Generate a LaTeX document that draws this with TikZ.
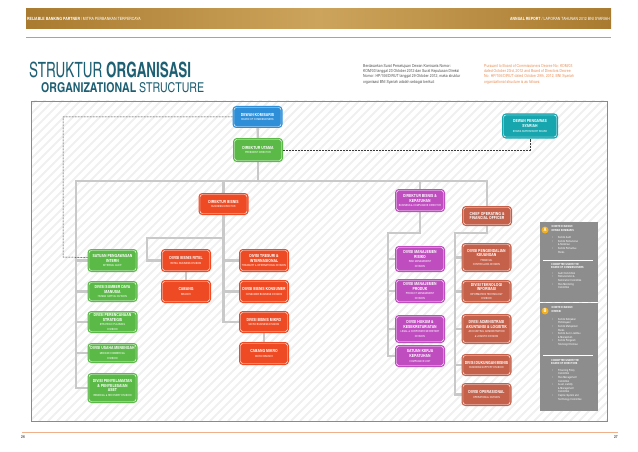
\documentclass[tikz,border=0pt]{standalone}
\usepackage{fontspec}
\setmainfont{texgyreheroscn}[Extension=.otf,UprightFont=*-regular,BoldFont=*-bold,ItalicFont=*-italic,BoldItalicFont=*-bolditalic]
\usepackage{graphicx}
\usepackage{xcolor}
\definecolor{cKom}{HTML}{2E8FD8}
\definecolor{cUtama}{HTML}{5BBA47}
\definecolor{cSyariah}{HTML}{17A5AE}
\definecolor{cBisnis}{HTML}{EE4B24}
\definecolor{cPatuh}{HTML}{BF4DC0}
\definecolor{cFin}{HTML}{C5604A}
\definecolor{cLink}{HTML}{C9C9C9}
\definecolor{cDash}{HTML}{3A3A3A}
\definecolor{cTitle}{HTML}{1D5F73}
\definecolor{cGold}{HTML}{A97B30}
\definecolor{cGoldLight}{HTML}{CDA45C}
\definecolor{cOrange}{HTML}{E8905A}
\definecolor{cPanel}{HTML}{8D8D8D}
\definecolor{cBadge}{HTML}{F2B01E}
\definecolor{cFrame}{HTML}{8A8A8A}
\definecolor{cHatch}{HTML}{F0F0F0}
\definecolor{cText}{HTML}{555555}
\usepackage{tikz}
\usetikzlibrary{positioning,backgrounds}

\newcommand\boxfont{\fontsize{4.2}{4.6}\selectfont\bfseries}
\newcommand\subline[1]{{\fontsize{2.8}{3.3}\selectfont\mdseries #1}}
\newcommand\panelfont{\fontsize{2.8}{3.6}\selectfont}
\newcommand\pitem[1]{\makebox[6pt][l]{\textbullet}#1}
\newcommand\pcont[1]{\hspace*{6pt}#1}

\tikzset{
  org-box/.style={fill=#1,draw=white,line width=0.45pt,rounded corners=2.5pt,
    preaction={draw=#1,line width=3pt},outer sep=1.5pt,minimum width=47pt,
    inner sep=0.8pt,align=center,text=white,font=\boxfont},
  link/.style={draw=cLink,line width=2.4pt},
  dash-link/.style={draw=cDash,line width=0.5pt,dash pattern=on 1.8pt off 1.2pt},
  hatch/.style={draw=cHatch,line width=1.8pt},
  panel-text/.style={anchor=north west,align=left,text=white,font=\panelfont,inner sep=0pt},
  panel-head/.style={panel-text,font=\panelfont\bfseries},
  badge/.style={circle,fill=cBadge,text=white,inner sep=0pt,minimum size=7pt,
    font=\fontsize{5}{5}\selectfont\bfseries},
}

\begin{document}
\begin{tikzpicture}[x=1pt,y=-1pt,node distance=9pt]
  \useasboundingbox (0,0) rectangle (638,452);

  % page header
  \shade[left color=cGold,right color=cGold,middle color=cGoldLight] (26,9) rectangle (611,29);
  \node[anchor=west,inner sep=0pt,text=white,font=\fontsize{4.3}{5}\selectfont] (tag-left) at (27,19)
    {\textbf{RELIABLE BANKING PARTNER} / MITRA PERBANKAN TERPERCAYA};
  \node[anchor=east,inner sep=0pt,text=white,font=\fontsize{4.3}{5}\selectfont] (tag-right) at (610,19)
    {\textbf{ANNUAL REPORT} / LAPORAN TAHUNAN 2012 BNI SYARIAH};
  \draw[cOrange,line width=0.8pt] (26,37) -- (611,37);

  \node[anchor=north west,inner sep=0pt,text=cTitle] (title-id) at (29,62)
    {\resizebox{162pt}{15.5pt}{STRUKTUR \textbf{ORGANISASI}}};
  \node[anchor=north west,inner sep=0pt,text=cTitle] (title-en) at (41,82.5)
    {\resizebox{163pt}{10pt}{\textbf{ORGANIZATIONAL} STRUCTURE}};
  \node[anchor=north west,inner sep=0pt,align=left,text=cText,font=\fontsize{4.2}{5.3}\selectfont] (note-id) at (363,64)
    {Berdasarkan Surat Persetujuan Dewan Komisaris Nomor:\\KOM/03 tanggal 23 Oktober 2012 dan Surat Keputusan Direksi\\
     Nomor: HP/106/DIRUT tanggal 29 Oktober 2012, maka struktur\\organisasi BNI Syariah adalah sebagai berikut:};
  \node[anchor=north west,inner sep=0pt,align=left,text=cOrange,font=\fontsize{4.2}{5.3}\selectfont] (note-en) at (484,64)
    {Pursuant to Board of Commissioners Decree No: KOM/03\\dated October 23rd, 2012 and Board of Directors Decree\\
     No: HP/106/DIRUT dated October 29th, 2012, BNI Syariah\\organizational structure is as follows:};

  % frame and footer
  \draw[cFrame,line width=0.8pt] (31,101) rectangle (607,421);
  \draw[cOrange!70,line width=0.8pt] (22,432) -- (618,432);
  \node[anchor=west,inner sep=0pt,text=cText,font=\fontsize{4}{4}\selectfont\bfseries] (page-l) at (21,437) {26};
  \node[anchor=east,inner sep=0pt,text=cText,font=\fontsize{4}{4}\selectfont\bfseries] (page-r) at (618,437) {27};

  % board
  \node[org-box=cKom,minimum height=19pt] (kom) at (257.5,117) {DEWAN KOMISARIS\\\subline{BOARD OF COMMISSIONERS}};
  \node[org-box=cUtama,minimum height=21pt] (utama) at (258,150) {DIREKTUR UTAMA\\\subline{PRESIDENT DIRECTOR}};
  \node[org-box=cSyariah,minimum height=22pt,minimum width=53pt] (dps) at (530,126)
    {DEWAN PENGAWAS\\SYARIAH\\\subline{SHARIA SUPERVISORY BOARD}};
  \node[org-box=cBisnis,minimum height=19pt] (bisnis) at (223.5,204) {DIREKTUR BISNIS\\\subline{BUSINESS DIRECTOR}};
  \node[org-box=cPatuh,minimum height=20pt] (patuh) at (420,200.5)
    {DIREKTUR BISNIS \&\\KEPATUHAN\\\subline{BUSINESS \& COMPLIANCE DIRECTOR}};
  \node[org-box=cFin,minimum height=17pt] (cofo) at (487,216) {CHIEF OPERATING \&\\FINANCIAL OFFICER};

  % under president director
  \node[org-box=cUtama,minimum height=20pt] (spi) at (112.5,260.5) {SATUAN PENGAWASAN\\INTERN\\\subline{INTERNAL AUDIT}};
  \node[org-box=cUtama,minimum height=18pt,below=of spi] (sdm) {DIVISI SUMBER DAYA\\MANUSIA\\\subline{HUMAN CAPITAL DIVISION}};
  \node[org-box=cUtama,minimum height=19pt,below=of sdm] (rencana)
    {DIVISI PERENCANAAN\\STRATEGIS\\\subline{STRATEGIC PLANNING}\\\subline{DIVISION}};
  \node[org-box=cUtama,minimum height=17pt,below=10pt of rencana] (menengah)
    {DIVISI USAHA MENENGAH\\\subline{MEDIUM COMMERCIAL}\\\subline{DIVISION}};
  \node[org-box=cUtama,minimum height=27pt,below=10pt of menengah] (aset)
    {DIVISI PENYELAMATAN\\\& PENYELESAIAN\\ASET\\\subline{REMEDIAL \& RECOVERY DIVISION}};

  % under business director
  \node[org-box=cBisnis,minimum height=20pt] (ritel) at (186,260.5) {DIVISI BISNIS RITEL\\\subline{RETAIL BUSINESS DIVISION}};
  \node[org-box=cBisnis,minimum height=20pt,below=8pt of ritel] (cabang) {CABANG\\\subline{BRANCH}};
  \node[org-box=cBisnis,minimum height=20pt] (tresuri) at (264,260.5)
    {DIVISI TRESURI \&\\INTERNASIONAL\\\subline{TREASURY \& INTERNATIONAL DIVISION}};
  \node[org-box=cBisnis,minimum height=20pt,below=8pt of tresuri] (konsumer)
    {DIVISI BISNIS KONSUMER\\\subline{CONSUMER BUSINESS DIVISION}};
  \node[org-box=cBisnis,minimum height=19pt,below=8pt of konsumer] (mikro)
    {DIVISI BISNIS MIKRO\\\subline{MICRO BUSINESS DIVISION}};
  \node[org-box=cBisnis,minimum height=20pt,below=of mikro] (cab-mikro) {CABANG MIKRO\\\subline{MICRO BRANCH}};

  % under business & compliance director
  \node[org-box=cPatuh,minimum height=23pt] (risiko) at (420,259)
    {DIVISI MANAJEMEN\\RISIKO\\\subline{RISK MANAGEMENT}\\\subline{DIVISION}};
  \node[org-box=cPatuh,minimum height=21pt,below=7pt of risiko] (produk)
    {DIVISI MANAJEMEN\\PRODUK\\\subline{PRODUCT MANAGEMENT}\\\subline{DIVISION}};
  \node[org-box=cPatuh,minimum height=25pt,below=12pt of produk] (hukum)
    {DIVISI HUKUM \&\\KESEKRETARIATAN\\\subline{LEGAL \& CORPORATE SECRETARY}\\\subline{DIVISION}};
  \node[org-box=cPatuh,minimum height=19pt,below=2pt of hukum] (skk)
    {SATUAN KERJA\\KEPATUHAN\\\subline{COMPLIANCE UNIT}};

  % under chief operating & financial officer
  \node[org-box=cFin,minimum height=26pt] (keuangan) at (486.5,257.5)
    {DIVISI PENGENDALIAN\\KEUANGAN\\\subline{FINANCIAL}\\\subline{CONTROLLING DIVISION}};
  \node[org-box=cFin,minimum height=20pt,below=8pt of keuangan] (ti)
    {DIVISI TEKNOLOGI\\INFORMASI\\\subline{INFORMATION TECHNOLOGY}\\\subline{DIVISION}};
  \node[org-box=cFin,minimum height=27pt,below=11pt of ti] (logistik)
    {DIVISI ADMINISTRASI\\AKUNTANSI \& LOGISTIK\\\subline{ACCOUNTING, ADMINISTRATION}\\\subline{\& LOGISTIC DIVISION}};
  \node[org-box=cFin,minimum height=19pt,below=10pt of logistik] (dukungan)
    {DIVISI DUKUNGAN BISNIS\\\subline{BUSINESS SUPPORT DIVISION}};
  \node[org-box=cFin,minimum height=20pt,below=7pt of dukungan] (operasional)
    {DIVISI OPERASIONAL\\\subline{OPERATIONAL DIVISION}};

  % committee panels
  \fill[cPanel] (540,222) rectangle (598,302);
  \node[badge] (badge-a) at (545,230) {A};
  \node[panel-head] (kom-a-id) at (551.5,225.5) {KOMITE DI BAWAH\\DEWAN KOMISARIS};
  \node[panel-text] (list-a-id) at (552,236.5)
    {\pitem{Komite Audit}\\\pitem{Komite Remunerasi}\\\pcont{\& Nominasi}\\\pitem{Komite Pemantau}\\\pcont{Risiko}};
  \draw[white,line width=0.6pt] (543,260) -- (593,260);
  \node[panel-head] (kom-a-en) at (551,263) {COMMITTEE UNDER THE\\BOARD OF COMMISSIONERS};
  \node[panel-text] (list-a-en) at (552,272)
    {\pitem{Audit Committee}\\\pitem{Remuneration \&}\\\pcont{Nomination Committee}\\\pitem{Risk Monitoring}\\\pcont{Committee}};

  \fill[cPanel] (540,303) rectangle (598,411);
  \node[badge] (badge-b) at (545,311) {B};
  \node[panel-head] (kom-b-id) at (551.5,306.5) {KOMITE DI BAWAH\\DIREKSI};
  \node[panel-text] (list-b-id) at (552,318)
    {\pitem{Komite Kebijakan}\\\pcont{Pembiayaan}\\\pitem{Komite Manajemen}\\\pcont{Risiko}\\
     \pitem{Komite Aset, Liabilitas}\\\pcont{\& Manajemen}\\\pitem{Komite Pengarah}\\\pcont{Teknologi Informasi}};
  \draw[white,line width=0.6pt] (543,355) -- (593,355);
  \node[panel-head] (kom-b-en) at (551,359) {COMMITTEE UNDER THE\\BOARD OF DIRECTORS};
  \node[panel-text] (list-b-en) at (552,369)
    {\pitem{Financing Policy}\\\pcont{Committee}\\\pitem{Risk Management}\\\pcont{Committee}\\
     \pitem{Asset, Liability}\\\pcont{\& Management}\\\pcont{Committee}\\\pitem{Capital, System and}\\\pcont{Technology Committee}};

  \coordinate (bar-l) at (76,181);
  \coordinate (ritel-k) at (147,238);
  \coordinate (patuh-k) at (388,233);
  \coordinate (cofo-k) at (455,233);
  \coordinate (spi-k) at (63,257);

  \begin{scope}[on background layer]
    \begin{scope}
      \clip (31,101) rectangle (607,421);
      \foreach \x in {-330,-321,...,610}
        \draw[hatch] (\x,421) -- ++(330,-330);
    \end{scope}
    \draw[link] (kom) -- (utama);
    \draw[link] (utama.south) -- (utama.south |- bar-l);
    \draw[link] (aset.west) -| (bar-l) -- (cofo.north |- bar-l) -- (cofo.north);
    \draw[link] (bisnis.north) -- (bisnis.north |- bar-l);
    \draw[link] (patuh.north) -- (patuh.north |- bar-l);
    \foreach \n in {spi,sdm,rencana,menengah}
      \draw[link] (\n.west) -- (\n.west -| bar-l);
    \draw[link] (bisnis.south) -- (bisnis.south |- mikro.west) -- (mikro.west);
    \draw[link] (ritel.west) -| (ritel-k) -- (ritel-k -| bisnis.south);
    \foreach \n in {tresuri,konsumer}
      \draw[link] (\n.west) -- (\n.west -| bisnis.south);
    \draw[link] (ritel) -- (cabang);
    \draw[link] (mikro) -- (cab-mikro);
    \draw[link] (patuh.south) |- (patuh-k) |- (skk.west);
    \foreach \n in {risiko,produk,hukum}
      \draw[link] (\n.west) -- (\n.west -| patuh-k);
    \draw[link] (cofo.south) |- (cofo-k) |- (operasional.west);
    \foreach \n in {keuangan,ti,logistik,dukungan}
      \draw[link] (\n.west) -- (\n.west -| cofo-k);
  \end{scope}

  \draw[dash-link] (kom.west) -| (spi-k) -- ([yshift=3pt]spi.west);
  \draw[dash-link] (utama.east) -| (dps.south);
\end{tikzpicture}
\end{document}
